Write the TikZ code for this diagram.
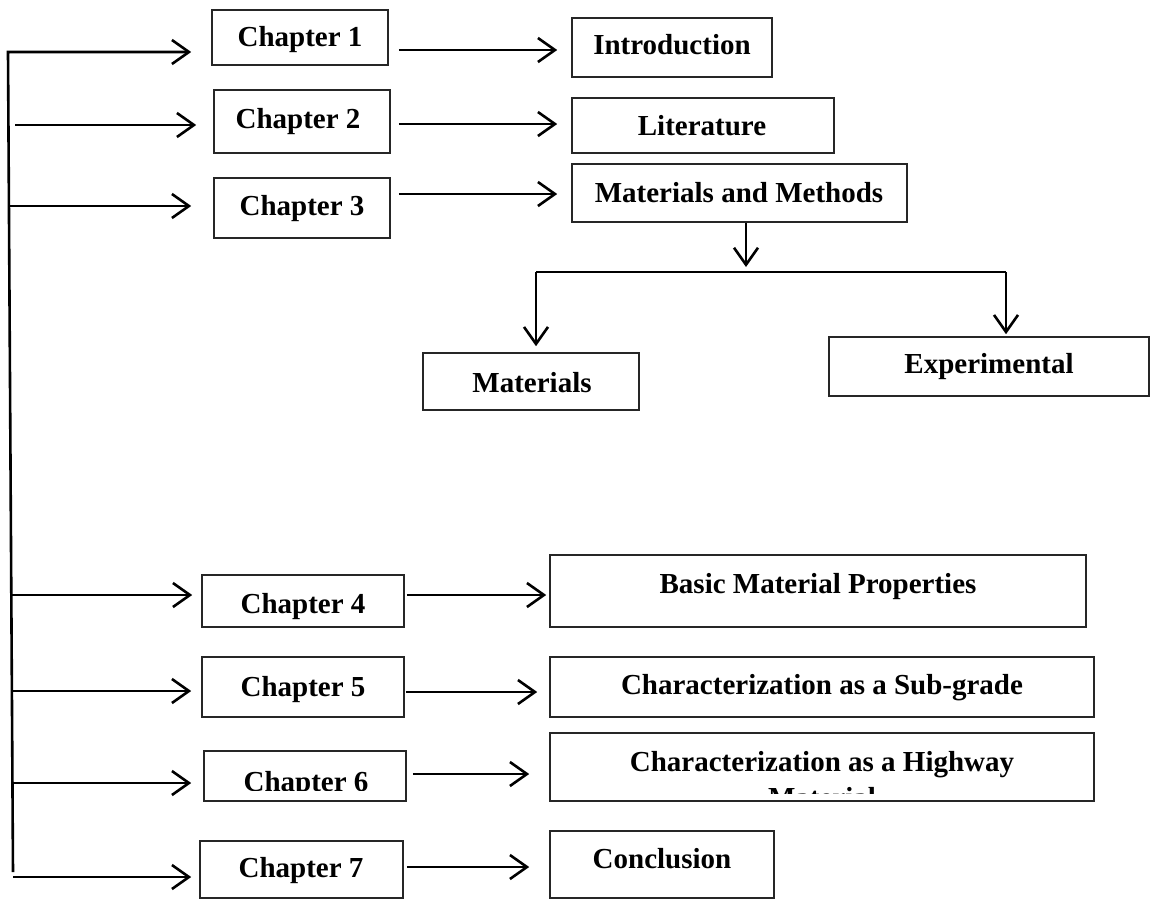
\documentclass[tikz,border=0pt]{standalone}
\usepackage{fontspec}
\setmainfont{Liberation Serif}
\usetikzlibrary{arrows.meta}
\begin{document}
\begin{tikzpicture}[x=1pt,y=-1pt,
  box/.style={draw=black!85, line width=1.6pt, rectangle, inner sep=0pt},
  txt/.style={font=\fontsize{29pt}{35pt}\selectfont\bfseries, inner sep=0pt, anchor=base},
  arr/.style={line width=2.6pt, -{Straight Barb[length=17pt,width=24pt]}},
  ln/.style={line width=2.6pt}]
\useasboundingbox (0,0) rectangle (1150,899);
% chapter boxes
\node[box, minimum width=176pt, minimum height=55pt] (c1) at (300,37.5) {};
\node[box, minimum width=176pt, minimum height=63pt] (c2) at (302,121.5) {};
\node[box, minimum width=176pt, minimum height=60pt] (c3) at (302,208) {};
\node[box, minimum width=202pt, minimum height=52pt] (c4) at (303,601) {};
\node[box, minimum width=202pt, minimum height=60pt] (c5) at (303,687) {};
\node[box, minimum width=202pt, minimum height=50pt] (c6) at (305,776) {};
\node[box, minimum width=203pt, minimum height=57pt] (c7) at (301.5,869.5) {};
% content boxes
\node[box, minimum width=200pt, minimum height=59pt] (intro) at (672,47.5) {};
\node[box, minimum width=262pt, minimum height=55pt] (lit) at (703,125.5) {};
\node[box, minimum width=335pt, minimum height=58pt] (mm) at (739.5,193) {};
\node[box, minimum width=216pt, minimum height=57pt] (mat) at (531,381.5) {};
\node[box, minimum width=320pt, minimum height=59pt] (exp) at (989,366.5) {};
\node[box, minimum width=536pt, minimum height=72pt] (bmp) at (818,591) {};
\node[box, minimum width=544pt, minimum height=60pt] (csg) at (822,687) {};
\node[box, minimum width=544pt, minimum height=68pt] (ch) at (822,767) {};
\node[box, minimum width=224pt, minimum height=67pt] (con) at (662,864.5) {};
% texts
\node[txt] (t1) at (300,47) {Chapter 1};
\node[txt] (t2) at (298,128) {Chapter 2};
\node[txt] (t3) at (302,215) {Chapter 3};
\node[txt] (t4) at (303,613) {Chapter 4};
\node[txt] (t5) at (303,696) {Chapter 5};
\begin{scope}
  \clip (c6.north west) rectangle (c6.east |- 0,790);
  \node[txt] (t6) at (306,791) {Chapter 6};
\end{scope}
\node[txt] (t7) at (301,877) {Chapter 7};
\node[txt] (tintro) at (672,55) {Introduction};
\node[txt] (tlit) at (702,135) {Literature};
\node[txt] (tmm) at (739,202) {Materials and Methods};
\node[txt] (tmat) at (532,392) {Materials};
\node[txt] (texp) at (989,373.5) {Experimental};
\node[txt] (tbmp) at (818,593) {Basic Material Properties};
\node[txt] (tcsg) at (822,694) {Characterization as a Sub-grade};
\begin{scope}
  \clip (ch.north west) rectangle (ch.east |- 0,793);
  \node[txt] (tch1) at (822,771) {Characterization as a Highway};
  \node[txt] (tch2) at (822,807) {Material};
\end{scope}
\node[txt] (tcon) at (662,868) {Conclusion};
% spine and left arrows
\coordinate (top) at (8,52);
\coordinate (bot) at (13,872);
\coordinate (s2) at (15,125);
\coordinate (s3) at (9,206);
\coordinate (s4) at (11,595);
\coordinate (s5) at (12,691);
\coordinate (s6) at (12.5,783);
\coordinate (s7) at (13,877);
\draw[arr, shorten >=20pt] (bot) -- (top) -- (c1.west |- top);
\draw[arr, shorten >=17pt] (s2) -- (c2.west |- s2);
\draw[arr, shorten >=22pt] (s3) -- (c3.west |- s3);
\draw[arr, shorten >=9pt] (s4) -- (c4.west |- s4);
\draw[arr, shorten >=10pt] (s5) -- (c5.west |- s5);
\draw[arr, shorten >=12pt] (s6) -- (c6.west |- s6);
\draw[arr, shorten >=8pt] (s7) -- (c7.west |- s7);
% right arrows
\draw[arr, shorten <=10pt, shorten >=14pt] (c1.east |- 0,50) -- (intro.west |- 0,50);
\draw[arr, shorten <=8pt, shorten >=14pt] (c2.east |- 0,124) -- (lit.west |- 0,124);
\draw[arr, shorten <=8pt, shorten >=14pt] (c3.east |- 0,194) -- (mm.west |- 0,194);
\draw[arr, shorten <=2pt, shorten >=3pt] (c4.east |- 0,595) -- (bmp.west |- 0,595);
\draw[arr, shorten <=1pt, shorten >=12pt] (c5.east |- 0,692) -- (csg.west |- 0,692);
\draw[arr, shorten <=6pt, shorten >=20pt] (c6.east |- 0,774) -- (ch.west |- 0,774);
\draw[arr, shorten <=3pt, shorten >=20pt] (c7.east |- 0,867) -- (con.west |- 0,867);
% materials and methods branch
\coordinate (bar) at (746,272);
\coordinate (bl) at (536,272);
\coordinate (br) at (1006,272);
\draw[arr, shorten >=5pt] (mm.south -| bar) -- (bar);
\draw[ln] (bl) -- (br);
\draw[arr, shorten >=6pt] (bl) -- (bl |- mat.north);
\draw[arr, shorten >=2pt] (br) -- (br |- exp.north);
\end{tikzpicture}
\end{document}
